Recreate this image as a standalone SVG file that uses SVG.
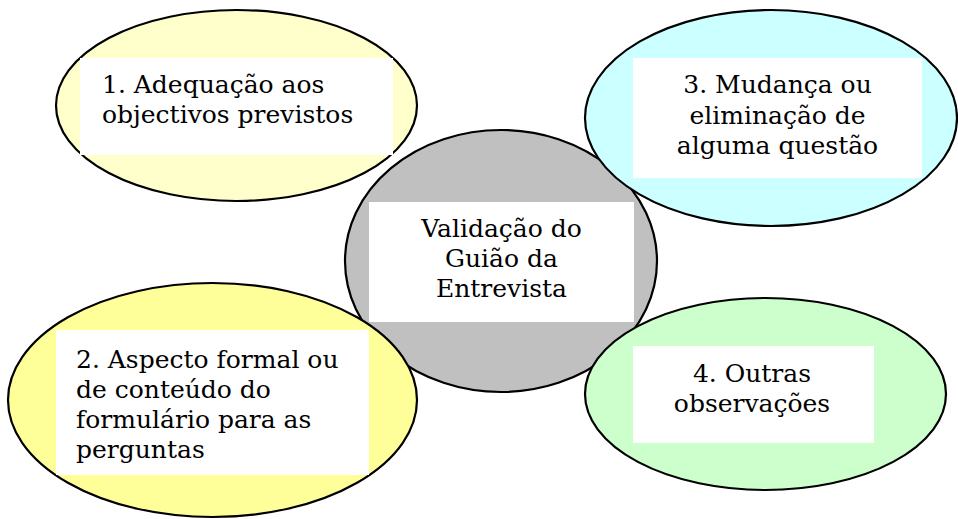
<svg xmlns="http://www.w3.org/2000/svg" width="958" height="519" viewBox="0 0 958 519">
  <style>
    .ell { stroke: #000; stroke-width: 2.2; }
    .box { fill: #fff; stroke: none; }
    .t { font-family: "DejaVu Serif", "Liberation Serif", serif; font-size: 25px; fill: #000; }
    .c { text-anchor: middle; }
  </style>
  <rect x="0" y="0" width="958" height="519" fill="#fff"/>
  <g id="connectors"></g>
  <g id="node-center">
    <ellipse class="ell" cx="501" cy="261" rx="156" ry="131" fill="#C0C0C0"/>
    <rect class="box" x="369" y="202" width="265" height="120"/>
    <text class="t c" x="501.5" y="236.5">Validação do</text>
    <text class="t c" x="501.5" y="266.5">Guião da</text>
    <text class="t c" x="501.5" y="296.5">Entrevista</text>
  </g>
  <g id="node-1">
    <ellipse class="ell" cx="236.5" cy="105.5" rx="180.5" ry="95.5" fill="#FFFFCC"/>
    <rect class="box" x="80" y="58" width="313" height="97"/>
    <text class="t" x="102" y="93">1. Adequação aos</text>
    <text class="t" x="102" y="123">objectivos previstos</text>
  </g>
  <g id="node-2">
    <ellipse class="ell" cx="212.5" cy="400" rx="204.5" ry="117" fill="#FFFF99"/>
    <rect class="box" x="56" y="330" width="313" height="145"/>
    <text class="t" x="76" y="368">2. Aspecto formal ou</text>
    <text class="t" x="76" y="398">de conteúdo do</text>
    <text class="t" x="76" y="428">formulário para as</text>
    <text class="t" x="76" y="458">perguntas</text>
  </g>
  <g id="node-3">
    <ellipse class="ell" cx="771" cy="118" rx="186" ry="108" fill="#CCFFFF"/>
    <rect class="box" x="633" y="58" width="289" height="120"/>
    <text class="t c" x="777.5" y="93">3. Mudança ou</text>
    <text class="t c" x="777.5" y="123.5">eliminação de</text>
    <text class="t c" x="777.5" y="154">alguma questão</text>
  </g>
  <g id="node-4">
    <ellipse class="ell" cx="765.5" cy="394" rx="180.5" ry="96" fill="#CCFFCC"/>
    <rect class="box" x="633" y="346" width="241" height="97"/>
    <text class="t c" x="752" y="381.5">4. Outras</text>
    <text class="t c" x="752" y="411.5">observações</text>
  </g>
</svg>
